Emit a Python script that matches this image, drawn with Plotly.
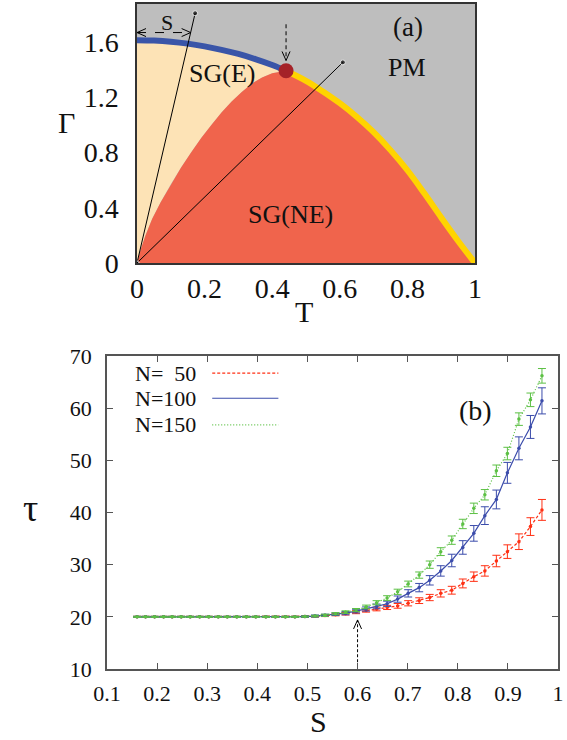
import plotly.graph_objects as go

# ---------------- data: panel (a) phase diagram ----------------
E_T = [0.0, 0.05, 0.10, 0.15, 0.20, 0.25, 0.30, 0.35, 0.40, 0.441]
E_G = [1.615, 1.612, 1.604, 1.590, 1.570, 1.545, 1.515, 1.478, 1.435, 1.393]

NE_left_T = [0.0, 0.01, 0.025, 0.045, 0.07, 0.10, 0.13, 0.16, 0.19, 0.22, 0.25, 0.28, 0.31, 0.34, 0.37, 0.40, 0.441]
NE_left_G = [0.0, 0.09, 0.20, 0.32, 0.44, 0.57, 0.69, 0.80, 0.905, 1.00, 1.09, 1.17, 1.24, 1.30, 1.345, 1.375, 1.393]

PM_T = [0.441, 0.50, 0.55, 0.60, 0.65, 0.70, 0.75, 0.80, 0.85, 0.90, 0.95, 1.0]
PM_G = [1.393, 1.32, 1.243, 1.158, 1.06, 0.948, 0.818, 0.672, 0.505, 0.33, 0.16, 0.0]

DOT = (0.441, 1.393)
RAY1_END = (0.172, 1.81)
RAY2_END = (0.609, 1.454)

a_xticks = [0, 0.2, 0.4, 0.6, 0.8, 1]
a_xlabels = ["0", "0.2", "0.4", "0.6", "0.8", "1"]
a_yticks = [0, 0.4, 0.8, 1.2, 1.6]
a_ylabels = ["0", "0.4", "0.8", "1.2", "1.6"]

# ---------------- data: panel (b) tau vs S ----------------
S = [0.160, 0.177, 0.195, 0.213, 0.230, 0.248, 0.266, 0.285, 0.303, 0.322,
     0.340, 0.359, 0.378, 0.397, 0.417, 0.436, 0.456, 0.475, 0.495, 0.515,
     0.535, 0.556, 0.576, 0.597, 0.617, 0.638, 0.659, 0.680, 0.701, 0.723,
     0.744, 0.766, 0.788, 0.810, 0.832, 0.854, 0.877, 0.899, 0.922, 0.945, 0.968]

tau_50 = [20.0, 20.0, 20.0, 20.0, 20.0, 20.0, 20.0, 20.0, 20.0, 20.0,
          20.0, 20.0, 20.0, 20.0, 20.0, 20.0, 20.0, 20.0, 20.05, 20.1,
          20.25, 20.4, 20.6, 20.9, 21.2, 21.5, 21.8, 22.1, 22.6, 23.1,
          23.7, 24.5, 25.1, 26.4, 27.7, 28.8, 30.7, 32.5, 34.4, 37.3, 40.5]
tau_100 = [20.0, 20.0, 20.0, 20.0, 20.0, 20.0, 20.0, 20.0, 20.0, 20.0,
           20.0, 20.0, 20.0, 20.0, 20.0, 20.0, 20.0, 20.0, 20.05, 20.15,
           20.3, 20.5, 20.7, 21.1, 21.5, 22.0, 22.5, 23.4, 24.5, 25.6,
           27.0, 28.8, 30.8, 33.3, 36.0, 39.4, 42.5, 47.6, 52.3, 56.4, 61.4]
tau_150 = [20.0, 20.0, 20.0, 20.0, 20.0, 20.0, 20.0, 20.0, 20.0, 20.0,
           20.0, 20.0, 20.0, 20.0, 20.0, 20.0, 20.0, 20.0, 20.05, 20.15,
           20.3, 20.6, 20.9, 21.3, 21.9, 22.7, 23.6, 24.8, 26.3, 28.0,
           30.0, 32.5, 34.7, 37.8, 40.8, 43.4, 48.0, 51.3, 57.9, 61.6, 66.2]

err_50 = [0.1, 0.1, 0.1, 0.1, 0.1, 0.1, 0.1, 0.1, 0.1, 0.1,
          0.1, 0.1, 0.1, 0.1, 0.1, 0.1, 0.1, 0.1, 0.15, 0.15,
          0.2, 0.2, 0.25, 0.3, 0.3, 0.35, 0.4, 0.45, 0.5, 0.55,
          0.6, 0.7, 0.75, 0.85, 0.9, 1.0, 1.1, 1.3, 1.5, 1.7, 2.0]
err_100 = [0.1, 0.1, 0.1, 0.1, 0.1, 0.1, 0.1, 0.1, 0.1, 0.1,
           0.1, 0.1, 0.1, 0.1, 0.1, 0.1, 0.1, 0.1, 0.15, 0.2,
           0.2, 0.25, 0.3, 0.35, 0.4, 0.45, 0.5, 0.6, 0.7, 0.8,
           0.9, 1.0, 1.2, 1.3, 1.5, 1.7, 1.8, 2.0, 2.2, 2.2, 2.5]
err_150 = [0.1, 0.1, 0.1, 0.1, 0.1, 0.1, 0.1, 0.1, 0.1, 0.1,
           0.1, 0.1, 0.1, 0.1, 0.1, 0.1, 0.1, 0.1, 0.1, 0.15,
           0.2, 0.2, 0.25, 0.3, 0.35, 0.4, 0.45, 0.5, 0.55, 0.6,
           0.7, 0.75, 0.8, 0.9, 1.0, 1.0, 1.1, 1.2, 1.2, 1.3, 1.4]

series_names = ["N=\u00a0\u00a050", "N=100", "N=150"]
b_xticks = [0.1, 0.2, 0.3, 0.4, 0.5, 0.6, 0.7, 0.8, 0.9, 1]
b_xlabels = ["0.1", "0.2", "0.3", "0.4", "0.5", "0.6", "0.7", "0.8", "0.9", "1"]
b_yticks = [10, 20, 30, 40, 50, 60, 70]
b_ylabels = ["10", "20", "30", "40", "50", "60", "70"]

# ---------------- layout geometry (pixels in the page) ----------------
W, H = 567, 740
A_L, A_R, A_T, A_B = 137, 475, 4, 263
B_L, B_R, B_T, B_B = 107, 558, 356, 669
A_YMAX = 1.877
FONT = "Liberation Serif"


def px_x(p):
    return p / W


def px_y(p):
    return 1 - p / H


C_GRAY = "#bebebe"
C_CREAM = "#fde3b6"
C_RED = "#f0644c"
C_BLUE = "#3a55a8"
C_YEL = "#ffd400"
C_DOT = "#a52228"
COL = ["#ff3014", "#3b4cab", "#5cc044"]
DASH = ["3px,2px", "solid", "1px,2px"]

a_px_x = (A_R - A_L) / 1.0
a_px_y = (A_B - A_T) / A_YMAX
b_px_x = (B_R - B_L) / 0.9
b_px_y = (B_B - B_T) / 60.0

fig = go.Figure()

# --- panel (a) regions ---
fig.add_trace(go.Scatter(
    x=[0.0] + E_T + NE_left_T[::-1], y=[0.0] + E_G + NE_left_G[::-1],
    fill="toself", fillcolor=C_CREAM, mode="lines", line=dict(width=0),
    hoverinfo="skip", showlegend=False, xaxis="x", yaxis="y"))
fig.add_trace(go.Scatter(
    x=NE_left_T + PM_T[1:], y=NE_left_G + PM_G[1:],
    fill="toself", fillcolor=C_RED, mode="lines", line=dict(width=0),
    hoverinfo="skip", showlegend=False, xaxis="x", yaxis="y"))
fig.add_trace(go.Scatter(x=E_T, y=E_G, mode="lines", line=dict(color=C_BLUE, width=6, shape="spline"),
                         showlegend=False, xaxis="x", yaxis="y", cliponaxis=False))
fig.add_trace(go.Scatter(x=PM_T, y=PM_G, mode="lines", line=dict(color=C_YEL, width=6, shape="spline"),
                         showlegend=False, xaxis="x", yaxis="y", cliponaxis=False))
for end in (RAY1_END, RAY2_END):
    fig.add_trace(go.Scatter(x=[0, end[0]], y=[0, end[1]], mode="lines+markers",
                             line=dict(color="black", width=1),
                             marker=dict(size=[4, 5], color="black"),
                             showlegend=False, xaxis="x", yaxis="y", cliponaxis=False))
fig.add_trace(go.Scatter(x=[DOT[0]], y=[DOT[1]], mode="markers",
                         marker=dict(size=15, color=C_DOT), showlegend=False,
                         xaxis="x", yaxis="y", cliponaxis=False))


def vhead(tx, ty, dirx, diry, pxx, pxy, xa, ya, L=9, w=4):
    bx, by = -dirx * L, -diry * L
    px_, py_ = -diry * w, dirx * w
    xs = [tx + (bx + px_) / pxx, tx, tx + (bx - px_) / pxx]
    ys = [ty + (by + py_) / pxy, ty, ty + (by - py_) / pxy]
    fig.add_trace(go.Scatter(x=xs, y=ys, mode="lines", line=dict(color="black", width=1),
                             showlegend=False, xaxis=xa, yaxis=ya, cliponaxis=False))


S_Y = 1.67
S_X1 = RAY1_END[0] * S_Y / RAY1_END[1]
fig.add_trace(go.Scatter(x=[0.0, S_X1], y=[S_Y, S_Y], mode="lines",
                         line=dict(color="black", width=1, dash="dash"),
                         showlegend=False, xaxis="x", yaxis="y", cliponaxis=False))
vhead(0.0, S_Y, -1, 0, a_px_x, a_px_y, "x", "y")
vhead(S_X1, S_Y, 1, 0, a_px_x, a_px_y, "x", "y")
ARR_TOP = 1.73
ARR_TIP = 1.468
fig.add_trace(go.Scatter(x=[DOT[0], DOT[0]], y=[ARR_TOP, ARR_TIP], mode="lines",
                         line=dict(color="black", width=1, dash="4px,3px"),
                         showlegend=False, xaxis="x", yaxis="y"))
vhead(DOT[0], ARR_TIP, 0, -1, a_px_x, a_px_y, "x", "y")

# --- panel (b) series ---
taus = [tau_50, tau_100, tau_150]
errs = [err_50, err_100, err_150]
for i in range(3):
    fig.add_trace(go.Scatter(
        x=S, y=taus[i], mode="lines+markers", name=series_names[i],
        line=dict(color=COL[i], width=1.2, dash=DASH[i]),
        marker=dict(size=3.5, color=COL[i]),
        error_y=dict(type="data", array=errs[i], color=COL[i], thickness=1, width=4),
        showlegend=False, xaxis="x2", yaxis="y2"))

V_S = 0.6
V_BOT, V_TIP = 11.3, 19.4
fig.add_trace(go.Scatter(x=[V_S, V_S], y=[V_BOT, V_TIP], mode="lines",
                         line=dict(color="black", width=1, dash="3px,2px"),
                         showlegend=False, xaxis="x2", yaxis="y2"))
vhead(V_S, V_TIP, 0, 1, b_px_x, b_px_y, "x2", "y2")

leg_y = [66.7, 61.9, 56.8]
LEG_TX = 0.281
LEG_X0, LEG_X1 = 0.310, 0.442
annotations = []
shapes = []
for i in range(3):
    annotations.append(dict(x=LEG_TX, y=leg_y[i], xref="x2", yref="y2", text=series_names[i],
                            showarrow=False, xanchor="right", yanchor="middle",
                            font=dict(family=FONT, size=22, color="#111")))
    shapes.append(dict(type="line", xref="x2", yref="y2", x0=LEG_X0, x1=LEG_X1,
                       y0=leg_y[i], y1=leg_y[i],
                       line=dict(color=COL[i], width=1.2, dash=DASH[i])))

shapes.append(dict(type="rect", xref="x", yref="y", x0=0, x1=1, y0=0, y1=A_YMAX,
                   fillcolor=C_GRAY, line=dict(width=0), layer="below"))

for txt, x, y, sz in [("SG(E)", 0.25, 1.37, 26), ("PM", 0.80, 1.42, 26), ("(a)", 0.803, 1.712, 27),
                      ("SG(NE)", 0.455, 0.35, 26), ("S", 0.089, 1.745, 22)]:
    annotations.append(dict(x=x, y=y, xref="x", yref="y", text=txt, showarrow=False,
                            font=dict(family=FONT, size=sz, color="#111")))
annotations.append(dict(x=0.836, y=59.6, xref="x2", yref="y2", text="(b)", showarrow=False,
                        font=dict(family=FONT, size=28, color="#111")))

for txt, px, py, sz in [("Γ", 66, 123, 30), ("T", 304, 311, 30), ("τ", 30, 508, 38), ("S", 318, 721, 30)]:
    annotations.append(dict(x=px_x(px), y=px_y(py), xref="paper", yref="paper", text=txt,
                            showarrow=False, xanchor="center", yanchor="middle",
                            font=dict(family=FONT, size=sz, color="#111")))

fig.update_layout(
    width=W, height=H, margin=dict(l=0, r=0, t=0, b=0, autoexpand=False),
    paper_bgcolor="white", plot_bgcolor="rgba(0,0,0,0)", showlegend=False,
    xaxis=dict(domain=[px_x(A_L), px_x(A_R)], range=[0, 1], anchor="y", automargin=False,
               tickvals=a_xticks, ticktext=a_xlabels, ticks="", ticklen=0, showgrid=False, zeroline=False,
               showline=True, mirror=True, linecolor="#333", linewidth=1.5,
               tickfont=dict(family=FONT, size=28, color="#111"), ticklabelstandoff=0),
    yaxis=dict(domain=[px_y(A_B), px_y(A_T)], range=[0, A_YMAX], anchor="x", automargin=False,
               tickvals=a_yticks, ticktext=a_ylabels, ticks="", ticklen=0, showgrid=False, zeroline=False,
               showline=True, mirror=True, linecolor="#333", linewidth=1.5,
               tickfont=dict(family=FONT, size=28, color="#111"), ticklabelstandoff=11),
    xaxis2=dict(domain=[px_x(B_L), px_x(B_R)], range=[0.1, 1], anchor="y2", automargin=False,
                tickvals=b_xticks, ticktext=b_xlabels, ticks="inside", ticklen=6, tickcolor="#555",
                showgrid=False, zeroline=False, showline=True, mirror="ticks",
                linecolor="#555", linewidth=1.5,
                tickfont=dict(family=FONT, size=22, color="#111"), ticklabelstandoff=4),
    yaxis2=dict(domain=[px_y(B_B), px_y(B_T)], range=[10, 70], anchor="x2", automargin=False,
                tickvals=b_yticks, ticktext=b_ylabels, ticks="inside", ticklen=6, tickcolor="#555",
                showgrid=False, zeroline=False, showline=True, mirror="ticks",
                linecolor="#555", linewidth=1.5,
                tickfont=dict(family=FONT, size=22, color="#111"), ticklabelstandoff=9),
    annotations=annotations, shapes=shapes,
)

fig.write_html("out.html", config={"displayModeBar": False},
               post_script="document.body.style.margin='0px';")
